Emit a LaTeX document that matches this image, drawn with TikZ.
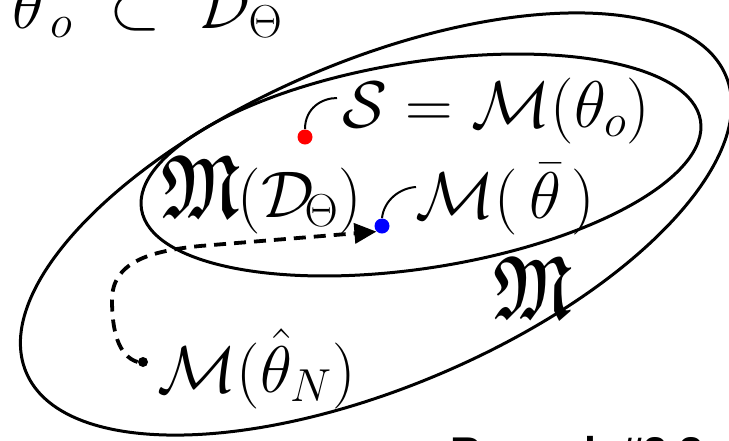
\RequirePackage{fix-cm}
\documentclass[tikz,border=0pt]{standalone}
\usepackage{amsmath,amssymb,graphicx}
\DeclareFontFamily{U}{euf}{}
\DeclareFontShape{U}{euf}{m}{n}{<->eufm10}{}
\DeclareFontShape{U}{euf}{b}{n}{<->eufb10}{}
\usepackage{fontspec}
\newfontfamily\remfont{Liberation Sans}
\usetikzlibrary{arrows.meta}
\tikzset{
  ell/.style={line width=1.5pt},
  lbl/.style={inner sep=0pt, anchor=base west, font=\fontsize{33}{40}\selectfont},
  dotnode/.style={circle, inner sep=0pt, minimum size=7.5pt},
  leader/.style={line width=1pt},
  flow/.style={line width=1.9pt, dash pattern=on 6pt off 4pt, -{Triangle[length=11pt,width=10pt]}}
}
\newcommand{\bigfrak}{\scalebox{0.88}[1.25]{\fontsize{36}{42}\selectfont$\boldsymbol{\mathfrak{M}}$}}
\begin{document}
\begin{tikzpicture}[x=0.5pt,y=-0.5pt]
\clip (0,0) rectangle (729,440);
% ellipses
\draw[ell, rotate around={23:(376,224)}] (376,224) ellipse [x radius=380, y radius=163];
\draw[ell, rotate around={9:(421,165)}] (421,165) ellipse [x radius=283, y radius=103];
% labels
\node[lbl] (top) at (12,28) {$\theta_{\,o}\;\subset\;\mathcal{D}_{\Theta}$};
\node[lbl] (S) at (342,127) {$\mathcal{S}=\mathcal{M}(\theta_o)$};
\node[lbl] (MD) at (161,217) {\bigfrak\kern-1pt$(\mathcal{D}_{\!\Theta})$};
\node[lbl] (Mbar) at (415,218) {$\mathcal{M}(\,\bar{\theta}\,)$};
\node[lbl] (Mhat) at (157,392) {$\mathcal{M}(\hat{\theta}_N)$};
\node[lbl] (frak) at (493,318) {\bigfrak};
\node[inner sep=0pt, anchor=base west, font=\remfont\bfseries\fontsize{21.5}{26}\selectfont] (rem) at (450,467) {Remark \#2.3};
% dots
\node[dotnode, fill=red] (rdot) at (305,137) {};
\node[dotnode, fill=blue] (bdot) at (382,226) {};
\node[dotnode, fill=black, minimum size=5pt] (kdot) at (143,362) {};
% leader lines
\coordinate (rend) at (337,98);
\coordinate (bend) at (416,187);
\draw[leader] (rdot.north) .. controls (305,108) and (322,98) .. (rend);
\draw[leader] (bdot.north) .. controls (384,200) and (400,188) .. (bend);
% dashed path
\coordinate (k1) at (112,300);
\coordinate (k2) at (200,246);
\draw[flow] (kdot.west) .. controls (118,356) and (112,330) .. (k1)
  .. controls (112,262) and (150,251) .. (k2) -- (bdot.south west);
\end{tikzpicture}
\end{document}
